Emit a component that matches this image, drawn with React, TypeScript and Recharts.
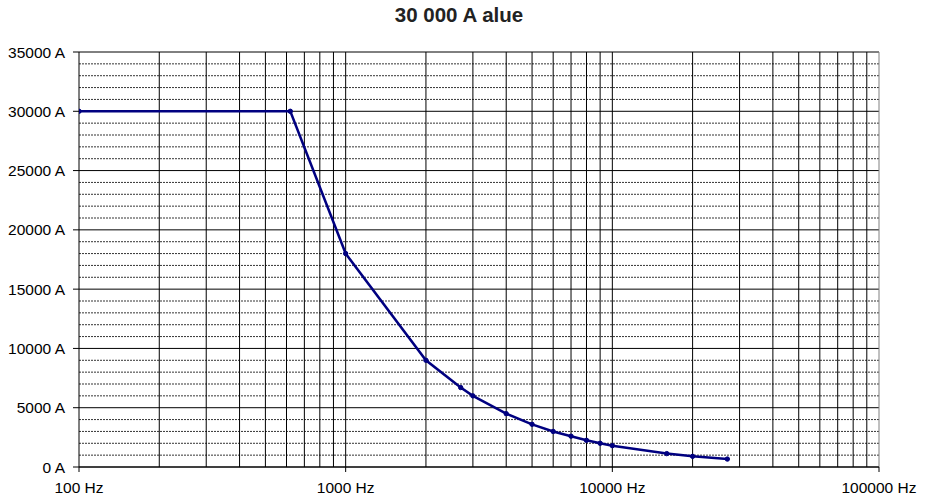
import { LineChart, Line, XAxis, YAxis, CartesianGrid, ReferenceLine } from "recharts";

// frequency (Hz) and current (A)
const freqs = [100, 620, 1000, 2000, 2700, 3000, 4000, 5000, 6000, 7000, 8000, 9000, 10000, 16000, 20000, 27000];
const amps = [30000, 30000, 18000, 9000, 6700, 6000, 4500, 3600, 3000, 2600, 2250, 2000, 1800, 1130, 900, 670];

const xTicks = [100, 1000, 10000, 100000];
const yTicks = [0, 5000, 10000, 15000, 20000, 25000, 30000, 35000];

// log grid: 2..9 of every decade, plus the decade lines inside
const xGrid = [
  200, 300, 400, 500, 600, 700, 800, 900, 1000,
  2000, 3000, 4000, 5000, 6000, 7000, 8000, 9000, 10000,
  20000, 30000, 40000, 50000, 60000, 70000, 80000, 90000,
];
const yMinor = [
  1000, 2000, 3000, 4000, 6000, 7000, 8000, 9000, 11000, 12000, 13000, 14000,
  16000, 17000, 18000, 19000, 21000, 22000, 23000, 24000, 26000, 27000, 28000, 29000,
  31000, 32000, 33000, 34000,
];

const data = freqs.map((f, i) => ({ f, a: amps[i] }));

const FONT = "'Liberation Sans', Arial, sans-serif";

export default function App() {
  return (
    <div style={{ position: "absolute", left: 0, top: 0, width: 929, height: 495, background: "#fff", fontFamily: FONT }}>
      <div
        style={{
          position: "absolute",
          left: 0,
          top: 5,
          width: 918,
          textAlign: "center",
          fontSize: 20.5,
          lineHeight: "20.5px",
          fontWeight: "bold",
          color: "#222",
        }}
      >
        30 000 A alue
      </div>
      <LineChart width={929} height={495} data={data} margin={{ top: 52, right: 50, bottom: 0, left: 0 }}>
        <CartesianGrid vertical={false} stroke="#000" />
        {yMinor.map((v) => (
          <ReferenceLine key={"y" + v} y={v} stroke="#000" strokeDasharray="2 1" strokeOpacity={0.8} />
        ))}
        {xGrid.map((v) => (
          <ReferenceLine key={"x" + v} x={v} stroke="#000" />
        ))}
        <ReferenceLine x={100000} stroke="#808080" />
        <XAxis
          dataKey="f"
          type="number"
          scale="log"
          domain={[100, 100000]}
          ticks={xTicks}
          allowDataOverflow
          height={28}
          tickSize={5}
          tickMargin={10}
          stroke="#000"
          tick={{ fill: "#000", fontSize: 15.5, fontFamily: FONT }}
          tickFormatter={(v) => `${v} Hz`}
        />
        <YAxis
          type="number"
          domain={[0, 35000]}
          ticks={yTicks}
          width={79}
          tickSize={6}
          tickMargin={8}
          stroke="#000"
          tick={{ fill: "#000", fontSize: 15.5, fontFamily: FONT }}
          tickFormatter={(v) => `${v} A`}
        />
        <Line
          dataKey="a"
          type="linear"
          stroke="#000080"
          strokeWidth={2.5}
          dot={{ r: 2.2, fill: "#000080", stroke: "#000080", strokeWidth: 1 }}
          isAnimationActive={false}
        />
      </LineChart>
    </div>
  );
}
